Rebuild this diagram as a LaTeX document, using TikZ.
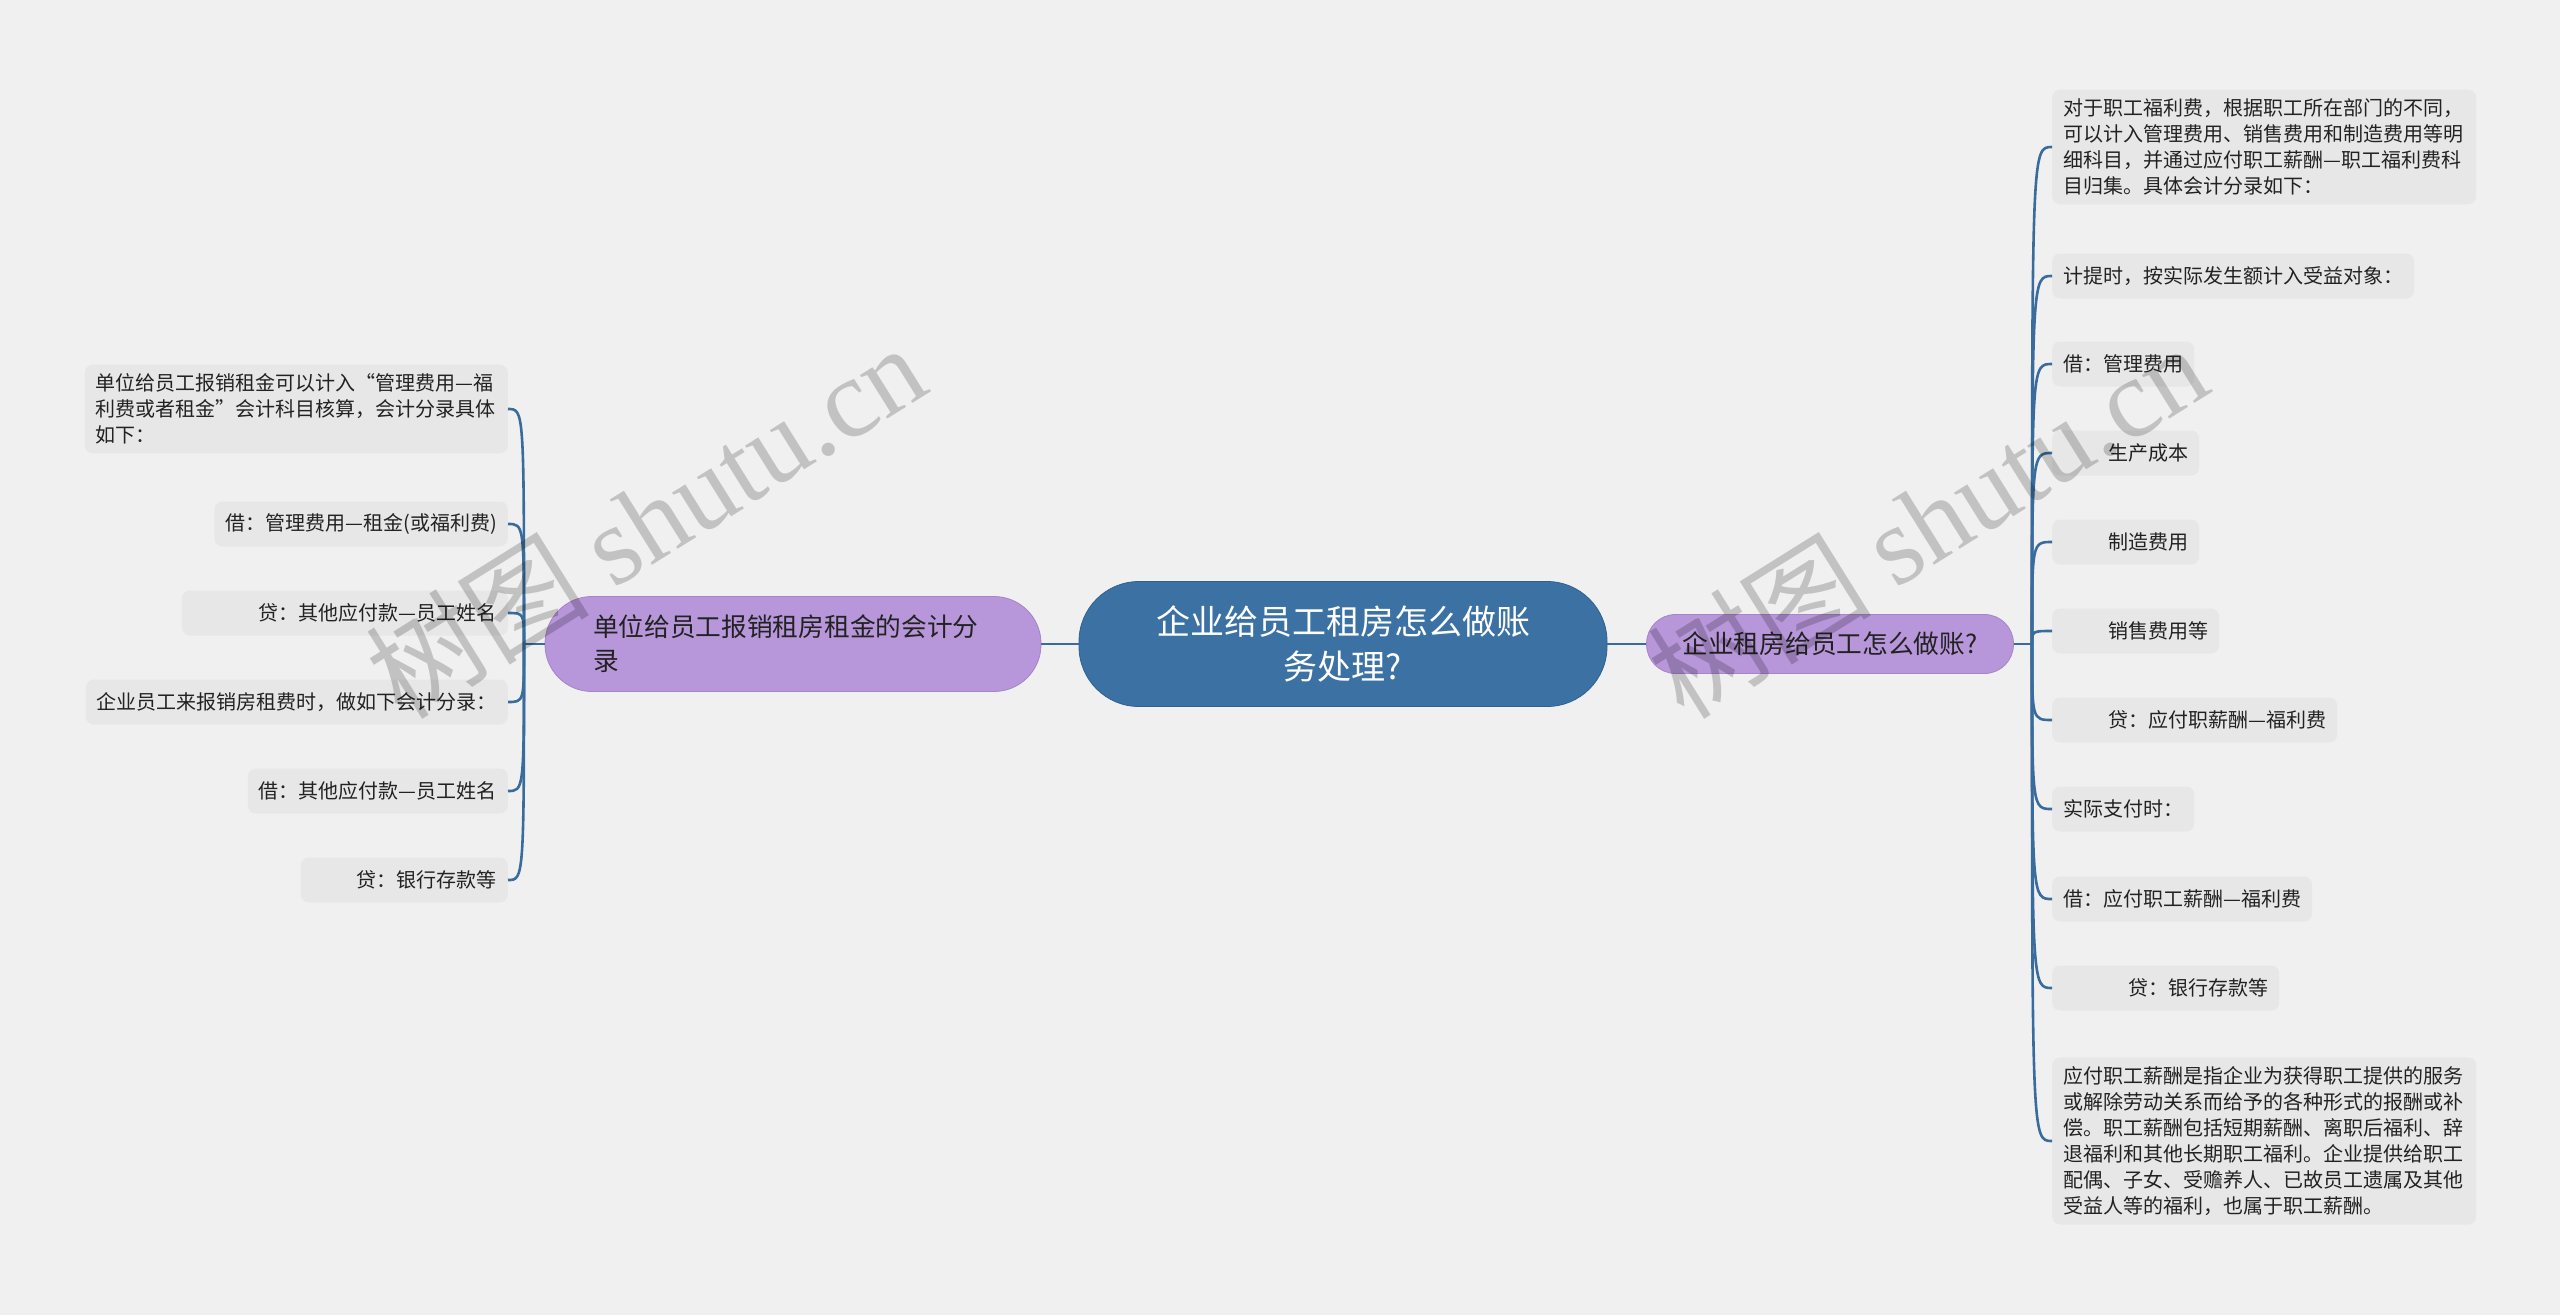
\documentclass[tikz,border=0pt]{standalone}
\usepackage{fontspec}
\setmainfont{Noto Sans CJK SC}
\newfontfamily\wmserif{Liberation Serif}
\usepackage{tikz}
\usetikzlibrary{calc}
\definecolor{mapbg}{RGB}{240,240,240}
\definecolor{mapblue}{RGB}{59,113,163}
\definecolor{mapblueline}{RGB}{48,96,142}
\definecolor{mappurple}{RGB}{183,150,217}
\definecolor{mappurpleline}{RGB}{166,131,202}
\definecolor{mapleaf}{RGB}{231,231,231}
\definecolor{maptext}{RGB}{34,34,34}
\definecolor{mapwire}{RGB}{57,108,156}
\tikzstyle{wire} = [line width=2.6pt, color=mapwire]
\tikzstyle{leaf} = [fill=mapleaf, rounded corners=8pt, inner xsep=11pt, inner ysep=9pt, minimum height=45pt, text=maptext, font=\fontsize{20pt}{26pt}\selectfont]
\tikzstyle{topic} = [fill=mappurple, draw=mappurpleline, line width=0.8pt, text=maptext, font=\fontsize{25.7pt}{34pt}\selectfont]
\tikzstyle{root} = [fill=mapblue, draw=mapblueline, line width=0.8pt, text=white, rounded corners=60pt, minimum width=528pt, minimum height=125pt, align=center, font=\fontsize{34pt}{45pt}\selectfont]
\tikzstyle{watermark} = [text=black, text opacity=0.19, rotate=32, font=\fontsize{112pt}{112pt}\selectfont]

\begin{document}
\begin{tikzpicture}[x=1pt, y=-1pt]
    \useasboundingbox (0,0) rectangle (2560,1315);
    \fill[mapbg] (0,0) rectangle (2560,1315);

    % centre and the two main topics
    \node[root] (root) at (1343,644) {企业给员工租房怎么做账\\务处理?};
    \node[topic, rounded corners=47pt, minimum height=95pt, text width=400pt, inner xsep=48pt, align=left] (lefttopic) at (793,644) {单位给员工报销租房租金的会计分\\录};
    \node[topic, rounded corners=29pt, minimum height=59pt, inner xsep=36pt] (righttopic) at (1830,644) {企业租房给员工怎么做账?};

    % left leaves
    \node[leaf, anchor=east, text width=401pt, align=left] (l1) at (508,409) {单位给员工报销租金可以计入“管理费用—福\\利费或者租金”会计科目核算，会计分录具体\\如下：};
    \node[leaf, anchor=east] (l2) at (508,524) {借：管理费用—租金(或福利费)};
    \node[leaf, anchor=east] (l3) at (508,613) {\hspace*{66pt}贷：其他应付款—员工姓名};
    \node[leaf, anchor=east] (l4) at (508,702) {企业员工来报销房租费时，做如下会计分录：};
    \node[leaf, anchor=east] (l5) at (508,791) {借：其他应付款—员工姓名};
    \node[leaf, anchor=east] (l6) at (508,880) {\hspace*{45pt}贷：银行存款等};

    % right leaves
    \node[leaf, anchor=west, text width=402pt, align=left] (r1) at (2052,147) {对于职工福利费，根据职工所在部门的不同，\\可以计入管理费用、销售费用和制造费用等明\\细科目，并通过应付职工薪酬—职工福利费科\\目归集。具体会计分录如下：};
    \node[leaf, anchor=west] (r2) at (2052,276) {计提时，按实际发生额计入受益对象：};
    \node[leaf, anchor=west] (r3) at (2052,364) {借：管理费用};
    \node[leaf, anchor=west] (r4) at (2052,453) {\hspace*{45pt}生产成本};
    \node[leaf, anchor=west] (r5) at (2052,542) {\hspace*{45pt}制造费用};
    \node[leaf, anchor=west] (r6) at (2052,631) {\hspace*{45pt}销售费用等};
    \node[leaf, anchor=west] (r7) at (2052,720) {\hspace*{45pt}贷：应付职薪酬—福利费};
    \node[leaf, anchor=west] (r8) at (2052,809) {实际支付时：};
    \node[leaf, anchor=west] (r9) at (2052,899) {借：应付职工薪酬—福利费};
    \node[leaf, anchor=west] (r10) at (2052,988) {\hspace*{65pt}贷：银行存款等};
    \node[leaf, anchor=west, text width=402pt, align=left] (r11) at (2052,1141) {应付职工薪酬是指企业为获得职工提供的服务\\或解除劳动关系而给予的各种形式的报酬或补\\偿。职工薪酬包括短期薪酬、离职后福利、辞\\退福利和其他长期职工福利。企业提供给职工\\配偶、子女、受赡养人、已故员工遗属及其他\\受益人等的福利，也属于职工薪酬。};

    % connectors
    \coordinate (lfork) at (524,644);
    \coordinate (rfork) at (2032,644);
    \draw[wire] (root.west) -- (lefttopic.east);
    \draw[wire] (root.east) -- (righttopic.west);
    \draw[wire] (lefttopic.west) -- (lfork);
    \draw[wire] (righttopic.east) -- (rfork);
    \foreach \n in {l1,l2,l3,l4,l5,l6}
        \draw[wire] (lfork) .. controls (lfork |- \n.east) .. (\n.east);
    \foreach \n in {r1,r2,r3,r4,r5,r6,r7,r8,r9,r10,r11}
        \draw[wire] (rfork) .. controls (rfork |- \n.west) .. (\n.west);

    % watermark
    \node[watermark] (mark1) at (645,520) {树图 {\wmserif shutu.cn}};
    \node[watermark] (mark2) at (1927,520) {树图 {\wmserif shutu.cn}};
\end{tikzpicture}
\end{document}
